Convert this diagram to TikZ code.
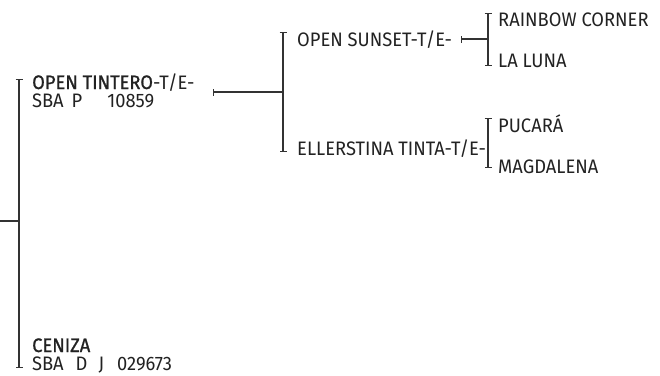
\documentclass[tikz,border=0pt]{standalone}
\usepackage{fontspec}
\setmainfont{Fira Sans}[FakeStretch=0.94]
\newfontfamily\medfont{Fira Sans}[FakeBold=1.0,FakeStretch=0.94]
\usetikzlibrary{arrows.meta}
\definecolor{ink}{HTML}{222222}
\definecolor{rule}{HTML}{333333}
\begin{document}
\begin{tikzpicture}[x=1pt,y=-1pt,
  lbl/.style={anchor=base west,inner sep=0pt,font=\fontsize{19.5}{19.5}\selectfont,text=ink},
  bracket/.style={draw=rule,line width=1.2pt,{Bar[width=7pt]}-{Bar[width=7pt]}},
  stem/.style={draw=rule,line width=1.2pt},
  tickstem/.style={stem,{Bar[width=7pt]}-}]
\useasboundingbox (0,0) rectangle (660,375);
% texts
\node[lbl] (tintero) at (32,89) {{\medfont OPEN TINTERO}-T/E-};
\node[lbl] (tinreg) at (32,107) {SBA\hspace{8pt}P\hspace{25pt}10859};
\node[lbl] (ceniza) at (32,352) {\medfont CENIZA};
\node[lbl] (cenreg) at (32,370) {SBA\hspace{12pt}D\hspace{11pt}J\hspace{13pt}029673};
\node[lbl] (sunset) at (297,46) {OPEN SUNSET-T/E-};
\node[lbl] (ellers) at (297,155) {ELLERSTINA TINTA-T/E-};
\node[lbl] (rainbow) at (498,26) {RAINBOW CORNER};
\node[lbl] (luna) at (498,67) {LA LUNA};
\node[lbl] (pucara) at (498,132) {PUCARÁ};
\node[lbl] (magda) at (498,173) {MAGDALENA};
% bracket points
\coordinate (b1t) at (19,79);
\coordinate (b1b) at (19,368);
\coordinate (b1m) at (19,221);
\coordinate (b1s) at (0,221);
\coordinate (b2t) at (283,32);
\coordinate (b2b) at (283,152);
\coordinate (b2m) at (283,92);
\coordinate (t1) at (213,92);
\coordinate (b3t) at (488,13);
\coordinate (b3b) at (488,66);
\coordinate (b3m) at (488,39);
\coordinate (t2) at (461,39);
\coordinate (b4t) at (488,118);
\coordinate (b4b) at (488,168);
% connectors
\draw[bracket] (b1t) -- (b1b);
\draw[stem] (b1s) -- (b1m);
\draw[bracket] (b2t) -- (b2b);
\draw[tickstem] (t1) -- (b2m);
\draw[bracket] (b3t) -- (b3b);
\draw[tickstem] (t2) -- (b3m);
\draw[bracket] (b4t) -- (b4b);
\end{tikzpicture}
\end{document}
